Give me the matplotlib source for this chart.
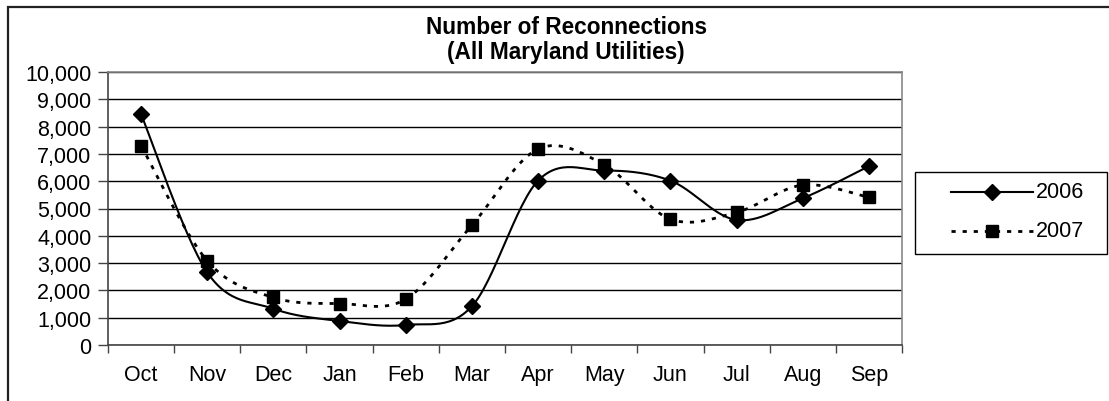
import numpy as np
import matplotlib
matplotlib.use("Agg")
import matplotlib.pyplot as plt
from matplotlib.patches import Rectangle
from matplotlib.lines import Line2D
from matplotlib.ticker import FuncFormatter, FixedLocator

months = ["Oct", "Nov", "Dec", "Jan", "Feb", "Mar", "Apr", "May", "Jun", "Jul", "Aug", "Sep"]
y2006 = [8450, 2660, 1330, 880, 735, 1420, 6020, 6390, 6020, 4580, 5375, 6550]
y2007 = [7300, 3080, 1740, 1520, 1680, 4390, 7180, 6600, 4610, 4860, 5860, 5410]
series_labels = ["2006", "2007"]
title_lines = ["Number of Reconnections", "(All Maryland Utilities)"]

plt.rcParams['font.family'] = ['Liberation Sans', 'DejaVu Sans']

W, H = 1109, 402
fig = plt.figure(figsize=(W / 100, H / 100), dpi=100)

# outer chart border
fig.patches.append(Rectangle((8 / W, -0.1), 1.2, (H - 8) / H + 0.1, transform=fig.transFigure,
                             fill=False, edgecolor="#222222", linewidth=1.6))

ax = fig.add_axes([108 / W, (H - 346) / H, (902 - 108) / W, (346 - 73) / H])


def smooth(xs, ys, n=30):
    xs = np.asarray(xs, float)
    ys = np.asarray(ys, float)
    P = np.column_stack([xs, ys])
    m = len(P)
    out = []
    for i in range(m - 1):
        p0 = P[i - 1] if i > 0 else P[i]
        p1 = P[i]
        p2 = P[i + 1]
        p3 = P[i + 2] if i + 2 < m else P[i + 1]
        c1 = p1 + (p2 - p0) / 6.0
        c2 = p2 - (p3 - p1) / 6.0
        t = np.linspace(0, 1, n)[:, None]
        seg = ((1 - t) ** 3) * p1 + 3 * ((1 - t) ** 2) * t * c1 + 3 * (1 - t) * t ** 2 * c2 + t ** 3 * p2
        if i > 0:
            seg = seg[1:]
        out.append(seg)
    out = np.vstack(out)
    return out[:, 0], out[:, 1]


DOT = (0, (1.5, 2.5))
x = np.arange(len(months))
# smoothing computed in screen-like units (category ~66px, 1000 ~27px)
sx, sy = smooth(x * 66.0, np.asarray(y2006) * 0.0272)
ax.plot(sx / 66.0, sy / 0.0272, color="black", lw=1.5, zorder=3)
ax.plot(x, y2006, linestyle="none", marker="D", markersize=8.5, color="black", zorder=4)
sx, sy = smooth(x * 66.0, np.asarray(y2007) * 0.0272)
ax.plot(sx / 66.0, sy / 0.0272, color="black", lw=2.0, linestyle=DOT, zorder=3)
ax.plot(x, y2007, linestyle="none", marker="s", markersize=8.5, color="black", zorder=5)

ax.set_xlim(-0.5, len(months) - 0.5)
ax.set_ylim(0, 10000)
ax.set_yticks(np.arange(0, 10001, 1000))
ax.yaxis.set_major_formatter(FuncFormatter(lambda v, p: f"{int(v):,}"))
ax.yaxis.grid(True, color="black", lw=1.0)
ax.set_axisbelow(True)

ax.set_xticks(x)
ax.set_xticklabels(months)
ax.xaxis.set_minor_locator(FixedLocator(np.arange(-0.5, len(months), 1.0)))
ax.tick_params(axis="x", which="major", length=0, pad=14, labelsize=15.5)
ax.tick_params(axis="x", which="minor", length=6, width=1, color="#444444")
ax.tick_params(axis="y", length=7, width=1, color="#444444", labelsize=15.5, pad=5)

for s in ["top", "right"]:
    ax.spines[s].set_color("#888888")
    ax.spines[s].set_linewidth(1.2)
for s in ["left", "bottom"]:
    ax.spines[s].set_color("#444444")
    ax.spines[s].set_linewidth(1.2)

fig.text(566 / W, 1 - 27 / H, title_lines[0], ha="center", va="center", fontsize=16.3, fontweight="bold")
fig.text(566 / W, 1 - 53 / H, title_lines[1], ha="center", va="center", fontsize=16.3, fontweight="bold")

# legend (drawn manually to match box geometry)
fig.patches.append(Rectangle((915 / W, 1 - 255 / H), (1107 - 915) / W, (255 - 173) / H,
                             transform=fig.transFigure, fill=True, facecolor="white",
                             edgecolor="black", linewidth=1.0, zorder=5))
rows = [(193, dict(lw=1.5, linestyle="-"), "D"), (232, dict(lw=2.0, linestyle=DOT), "s")]
for (yy, lstyle, mk), lab in zip(rows, series_labels):
    yf = 1 - yy / H
    fig.add_artist(Line2D([951 / W, 1033 / W], [yf, yf], transform=fig.transFigure,
                          color="black", zorder=6, **lstyle))
    fig.add_artist(Line2D([992 / W], [yf], transform=fig.transFigure, color="black",
                          marker=mk, markersize=8.5, linestyle="none", zorder=7))
    fig.text(1036 / W, yf, lab, ha="left", va="center", fontsize=15.5, zorder=8)

fig.savefig("out.png", dpi=100)
